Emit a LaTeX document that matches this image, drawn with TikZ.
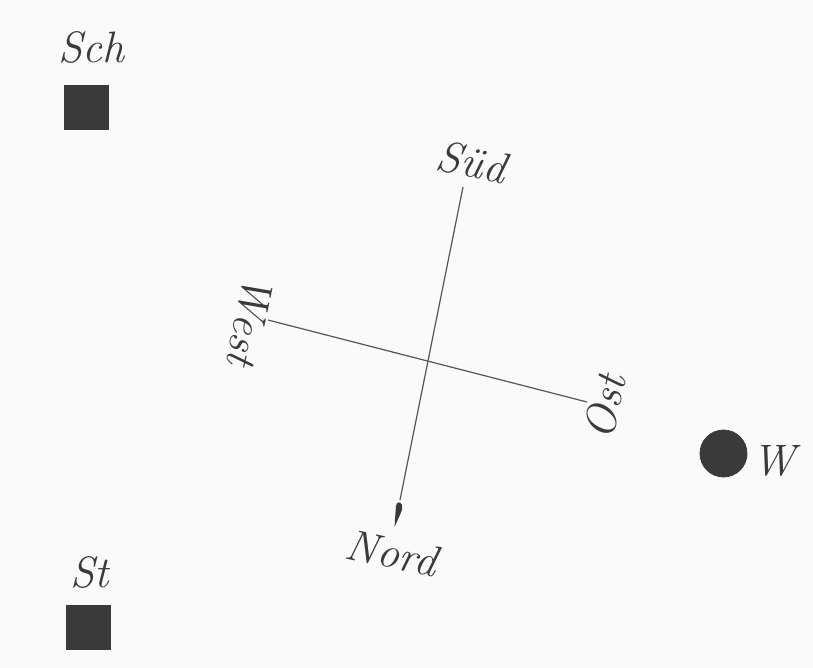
\documentclass[tikz,border=0pt]{standalone}
\usetikzlibrary{calc}
\definecolor{bg}{HTML}{FAFAFA}
\definecolor{ink}{HTML}{3A3A3A}
\definecolor{linec}{HTML}{555555}
\tikzset{
  lbl/.style={font=\fontsize{22}{26}\selectfont\itshape, text=ink, inner sep=0pt},
  block/.style={rectangle, fill=ink, draw=ink, minimum size=22pt, inner sep=0pt},
  well/.style={circle, fill=ink, draw=ink, minimum size=23.5pt, inner sep=0pt},
  axis/.style={draw=linec, line width=0.6pt}
}
\begin{document}
\begin{tikzpicture}[x=0.5pt,y=-0.5pt]
\fill[bg] (0,0) rectangle (813,668);
\useasboundingbox (0,0) rectangle (813,668);
% places
\node[block] (sch) at (86.5,107) {};
\node[lbl, anchor=base] (schl) at (91,63) {Sch};
\node[block] (st) at (88,627) {};
\node[lbl, anchor=base] (stl) at (90,587) {St};
\node[well] (w) at (723.5,453.5) {};
\node[lbl, anchor=base west] (wl) at (752,475) {W};
% compass
\coordinate (S) at (463,187);
\coordinate (N) at (400,500);
\coordinate (Wp) at (268,320);
\coordinate (E) at (587,402);
\draw[axis] (S) -- (N);
\draw[axis] (Wp) -- (E);
\fill[ink] (394.6,527) .. controls (399,516) and (404,509) .. (401.8,504.5)
  .. controls (400,501) and (396.5,502) .. (396,506)
  .. controls (395.5,512) and (395,519) .. (394.6,527) -- cycle;
\node[lbl, rotate=-12] (sud) at (472,162) {S\"ud};
\node[lbl, rotate=-12] (nord) at (392,553) {Nord};
\node[lbl, rotate=-102] (west) at (250,321) {West};
\node[lbl, rotate=78] (ost) at (605,407) {Ost};
\end{tikzpicture}
\end{document}
